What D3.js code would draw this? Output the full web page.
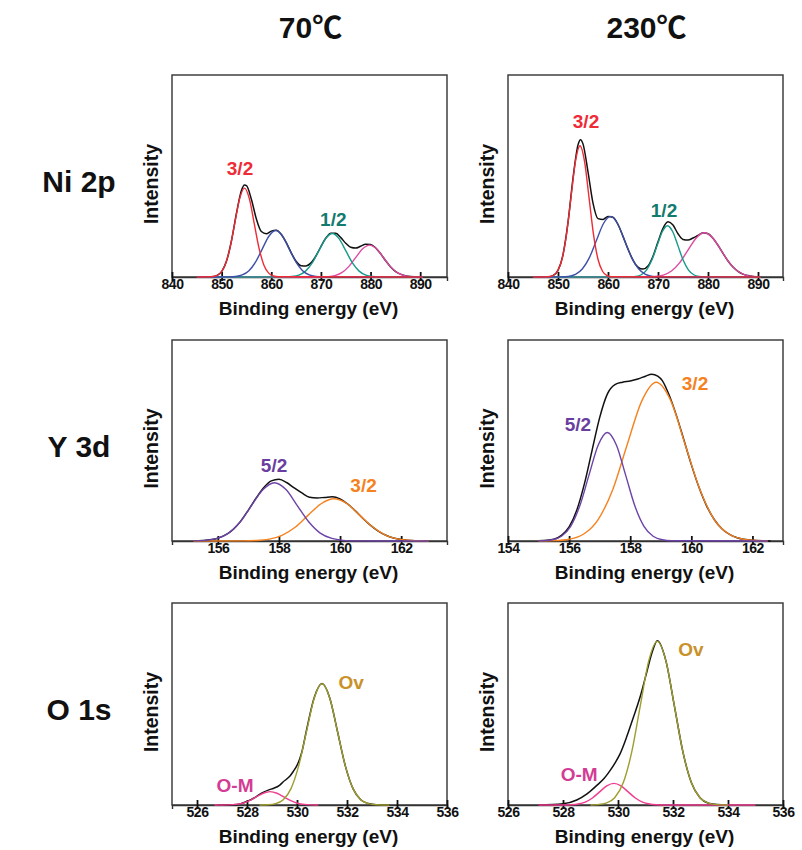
<!DOCTYPE html>
<html>
<head>
<meta charset="utf-8">
<script src="https://cdn.jsdelivr.net/npm/d3@7"></script>
<style>
  body { margin: 0; background: #fff; }
  text { font-family: "Liberation Sans", Arial, sans-serif; font-weight: bold; }
</style>
</head>
<body>
<svg id="chart" width="802" height="850"></svg>
<script>
// ---------- labels & ticks ----------
const columnTemps = ["70", "230"];
const tempUnit = "\u2103";
const rowLabels = ["Ni 2p", "Y 3d", "O 1s"];
const xAxisTitle = "Binding energy (eV)";
const yAxisTitle = "Intensity";

const niTicks = [840, 850, 860, 870, 880, 890];
const y70Ticks = [156, 158, 160, 162];
const y230Ticks = [154, 156, 158, 160, 162];
const oTicks = [526, 528, 530, 532, 534, 536];

const niPeakNames = ["3/2", "1/2"];
const yPeakNames = ["5/2", "3/2"];
const oPeakNames = ["O-M", "Ov"];

// ---------- Ni 2p, 70 C : [binding energy, intensity] ----------
const ni70Envelope = [[845,0],[846,0],[847,0.03],[848,0.14],[849,0.7],[850,2.7],[851,8.0],[852,18.2],[853,31.7],[854,42.9],[854.6,45.5],[855,45.2],[856,38.4],[857,28.7],[858,22.5],[859,21.4],[860,22.7],[861,23.2],[862,21.2],[863,17.1],[864,12.1],[865,7.8],[866,5.6],[867,5.5],[868,7.0],[869,10.5],[870,15.1],[871,19.3],[872,21.7],[873,21.6],[874,19.5],[875,16.7],[876,14.7],[877,14.3],[878,15.2],[879,16.2],[880,16.1],[881,14.5],[882,11.6],[883,8.2],[884,5.1],[885,2.8],[886,1.4],[887,0.6],[888,0.2],[889,0.07],[890,0],[890.5,0]];
const ni70Main32 = [[845,0],[847.78,0.1],[848.75,0.5],[849.73,1.9],[850.7,6.0],[851.68,14.3],[852.65,26.7],[853.63,38.8],[854.6,44],[855.58,38.8],[856.55,26.7],[857.53,14.3],[858.5,6.0],[859.48,1.9],[860.45,0.5],[861.43,0.1],[890.5,0]];
const ni70Sat32 = [[845,0],[851.45,0.05],[852.8,0.26],[854.15,1.01],[855.5,3.11],[856.85,7.47],[858.2,13.95],[859.55,20.3],[860.9,23],[862.25,20.3],[863.6,13.95],[864.95,7.47],[866.3,3.11],[867.65,1.01],[869.0,0.26],[870.35,0.05],[890.5,0]];
const ni70Main12 = [[845,0],[862.85,0.05],[864.2,0.24],[865.55,0.94],[866.9,2.91],[868.25,6.98],[869.6,13.04],[870.95,18.97],[872.3,21.5],[873.65,18.97],[875.0,13.04],[876.35,6.98],[877.7,2.91],[879.05,0.94],[880.4,0.24],[881.75,0.05],[890.5,0]];
const ni70Sat12 = [[845,0],[870.0,0.03],[871.4,0.18],[872.8,0.69],[874.2,2.14],[875.6,5.13],[877.0,9.58],[878.4,13.94],[879.8,15.8],[881.2,13.94],[882.6,9.58],[884.0,5.13],[885.4,2.14],[886.8,0.69],[888.2,0.18],[889.6,0.03],[890.5,0]];

// ---------- Ni 2p, 230 C ----------
const ni230Envelope = [[845,0],[846,0],[847,0.02],[848,0.1],[849,0.7],[850,3.3],[851,11.0],[852,27.0],[853,48.9],[854,65.4],[854.5,68.0],[855,65.9],[856,52.1],[857,36.6],[858,28.9],[859,28.5],[860,30.0],[861,29.6],[862,26.0],[863,20.1],[864,13.8],[865,8.4],[866,4.9],[867,3.9],[868,5.4],[869,10.3],[870,17.4],[871,24.1],[872,27.3],[873,25.7],[874,21.4],[875,18.6],[876,18.3],[877,19.3],[878,20.6],[879,21.9],[880,21.4],[881,19.2],[882,15.7],[883,11.7],[884,7.9],[885,4.9],[886,2.8],[887,1.4],[888,0.7],[889,0.3],[890,0.1],[890.5,0]];
const ni230Main32 = [[845,0],[848.1,0.14],[849.0,0.72],[849.9,2.85],[850.8,8.79],[851.7,21.11],[852.6,39.42],[853.5,57.36],[854.4,65],[855.3,57.36],[856.2,39.42],[857.1,21.11],[858.0,8.79],[858.9,2.85],[859.8,0.72],[860.7,0.14],[890.5,0]];
const ni230Sat32 = [[845,0],[850.7,0.07],[852.1,0.33],[853.5,1.32],[854.9,4.06],[856.3,9.74],[857.7,18.2],[859.1,26.48],[860.5,30],[861.9,26.48],[863.3,18.2],[864.7,9.74],[866.1,4.06],[867.5,1.32],[868.9,0.33],[870.3,0.07],[890.5,0]];
const ni230Main12 = [[845,0],[864.55,0.06],[865.6,0.28],[866.65,1.12],[867.7,3.44],[868.75,8.25],[869.8,15.41],[870.85,22.42],[871.9,25.4],[872.95,22.42],[874.0,15.41],[875.05,8.25],[876.1,3.44],[877.15,1.12],[878.2,0.28],[879.25,0.06],[890.5,0]];
const ni230Sat12 = [[845,0],[867.75,0.05],[869.4,0.24],[871.05,0.96],[872.7,2.96],[874.35,7.11],[876.0,13.28],[877.65,19.33],[879.3,21.9],[880.95,19.33],[882.6,13.28],[884.25,7.11],[885.9,2.96],[887.55,0.96],[889.2,0.24],[890.5,0]];

// ---------- Y 3d, 70 C ----------
const y70Envelope = [[155.2,0],[155.5,0.2],[156,1.4],[156.5,5.7],[156.75,9.9],[157,15.4],[157.25,21.3],[157.5,26.5],[157.75,29.9],[158,30.7],[158.25,29.1],[158.5,26.4],[158.75,23.9],[159,21.8],[159.25,21.4],[159.5,21.7],[159.75,22.0],[160,20.9],[160.25,18.4],[160.5,15.0],[160.75,11.2],[161,7.75],[161.25,4.9],[161.5,2.84],[161.75,1.51],[162,0.74],[162.5,0.14],[162.9,0]];
const y70D52 = [[155.2,0],[155.23,0.06],[155.6,0.32],[155.98,1.27],[156.35,3.92],[156.73,9.42],[157.1,17.59],[157.48,25.59],[157.85,29],[158.23,25.59],[158.6,17.59],[158.98,9.42],[159.35,3.92],[159.73,1.27],[160.1,0.32],[160.48,0.06],[162.9,0]];
const y70D32 = [[155.2,0],[156.83,0.05],[157.25,0.23],[157.68,0.92],[158.1,2.84],[158.53,6.82],[158.95,12.74],[159.38,18.53],[159.8,21],[160.23,18.53],[160.65,12.74],[161.08,6.82],[161.5,2.84],[161.93,0.92],[162.35,0.23],[162.78,0.05],[162.9,0]];

// ---------- Y 3d, 230 C ----------
const y230Envelope = [[155,0.1],[155.5,0.9],[155.75,2.8],[156,7.0],[156.25,15.3],[156.5,28.4],[156.75,45.0],[157,61.4],[157.25,73.1],[157.5,77.8],[157.75,79.0],[158,79.6],[158.25,80.6],[158.5,82.0],[158.7,83.0],[158.9,82.0],[159.05,79.8],[159.25,73.5],[159.5,63.0],[159.75,50.6],[160,38.0],[160.25,26.7],[160.5,17.5],[160.75,10.7],[161,6.1],[161.25,3.25],[161.5,1.6],[162,0.32],[162.5,0.05],[162.6,0]];
const y230D52 = [[155.0,0],[155.15,0.12],[155.45,0.6],[155.75,2.37],[156.05,7.31],[156.35,17.53],[156.65,32.75],[156.95,47.66],[157.25,54],[157.55,47.66],[157.85,32.75],[158.15,17.53],[158.45,7.31],[158.75,2.37],[159.05,0.6],[159.35,0.12],[162.5,0]];
const y230D32 = [[155.0,0],[155.53,0.17],[156.0,0.88],[156.48,3.47],[156.95,10.69],[157.43,25.65],[157.9,47.91],[158.38,69.72],[158.85,79],[159.33,69.72],[159.8,47.91],[160.28,25.65],[160.75,10.69],[161.23,3.47],[161.7,0.88],[162.18,0.17],[162.5,0]];

// ---------- O 1s, 70 C ----------
const o70Envelope = [[526.8,0],[527.6,0.3],[528,1.8],[528.3,3.6],[528.6,6.0],[528.9,7.6],[529.05,8.2],[529.3,9.7],[529.45,11.5],[529.6,13.0],[529.72,14.4],[529.85,16.6],[529.99,19.4],[530.1,22.5],[530.2,26.5],[530.38,37.0],[530.69,53.2],[531,60.1],[531.31,53.0],[531.62,36.4],[531.93,19.5],[532.24,8.1],[532.55,2.6],[532.86,0.7],[533.17,0.13],[533.7,0]];
const o70OM = [[526.7,0],[526.99,0.01],[527.27,0.07],[527.55,0.29],[527.82,0.89],[528.1,2.14],[528.37,4.0],[528.65,5.82],[528.92,6.6],[529.2,5.82],[529.47,4.0],[529.75,2.14],[530.02,0.89],[530.3,0.29],[530.57,0.07],[530.85,0]];
const o70Ov = [[528.5,0],[528.83,0.13],[529.14,0.67],[529.45,2.63],[529.76,8.12],[530.07,19.48],[530.38,36.39],[530.69,52.95],[531.0,60],[531.31,52.95],[531.62,36.39],[531.93,19.48],[532.24,8.12],[532.55,2.63],[532.86,0.67],[533.17,0.13],[533.7,0]];

// ---------- O 1s, 230 C ----------
const o230Envelope = [[527.1,0],[528,0.6],[528.5,2.5],[528.86,5.4],[529.22,9.6],[529.5,13.2],[529.71,17.0],[529.9,21.0],[530.07,25.2],[530.31,33.5],[530.56,43.4],[530.8,53.3],[531.05,66],[531.25,76],[531.43,81.3],[531.74,71.5],[532.05,49.1],[532.36,26.3],[532.67,11.0],[532.98,3.6],[533.29,0.9],[533.6,0.2],[534,0]];
const o230OM = [[527.1,0],[528.03,0.02],[528.29,0.12],[528.55,0.47],[528.81,1.45],[529.07,3.47],[529.33,6.49],[529.59,9.44],[529.85,10.7],[530.11,9.44],[530.37,6.49],[530.63,3.47],[530.89,1.45],[531.15,0.47],[531.41,0.12],[531.67,0.02],[535,0]];
const o230Ov = [[529.0,0],[529.26,0.18],[529.57,0.9],[529.88,3.56],[530.19,10.96],[530.5,26.3],[530.81,49.13],[531.12,71.48],[531.43,81],[531.74,71.48],[532.05,49.13],[532.36,26.3],[532.67,10.96],[532.98,3.56],[533.29,0.9],[533.6,0.18],[534,0]];

// ---------- styling ----------
const C = {
  red: "#ee2b36", blue: "#3e4fa8", teal: "#17998b", pink: "#de4aa2",
  purple: "#6d43a8", orange: "#f5821f", olive: "#9d9d30", omPink: "#ef3d8f",
  tealText: "#127a6e", purpleText: "#6a3ea0", ovText: "#c9912a", omText: "#d33c95"
};

const svg = d3.select("#chart");
const panelW = 275;
const colLeft = [172, 508];
const rowTop = [75, 340, 603];
const rowH = [202, 201, 202];

const panels = [
  { row: 0, col: 0, domain: [840, 895.4], ticks: niTicks, envelope: ni70Envelope,
    parts: [[ni70Sat12, C.pink], [ni70Main12, C.teal], [ni70Sat32, C.blue], [ni70Main32, C.red]],
    labels: [[niPeakNames[0], 853.7, 50.5, C.red], [niPeakNames[1], 872.5, 25.2, C.tealText]] },
  { row: 0, col: 1, domain: [840, 895], ticks: niTicks, envelope: ni230Envelope,
    parts: [[ni230Sat12, C.pink], [ni230Main12, C.teal], [ni230Sat32, C.blue], [ni230Main32, C.red]],
    labels: [[niPeakNames[0], 855.6, 73.9, C.red], [niPeakNames[1], 871.2, 29.9, C.tealText]] },
  { row: 1, col: 0, domain: [154.5, 163.5], ticks: y70Ticks, envelope: y70Envelope,
    parts: [[y70D32, C.orange], [y70D52, C.purple]],
    labels: [[yPeakNames[0], 157.84, 34.5, C.purpleText], [yPeakNames[1], 160.77, 24.5, C.orange]] },
  { row: 1, col: 1, domain: [154, 163], ticks: y230Ticks, envelope: y230Envelope,
    parts: [[y230D32, C.orange], [y230D52, C.purple]],
    labels: [[yPeakNames[0], 156.29, 54.7, C.purpleText], [yPeakNames[1], 160.12, 75.1, C.orange]] },
  { row: 2, col: 0, domain: [525, 536], ticks: oTicks, envelope: o70Envelope,
    parts: [[o70OM, C.omPink], [o70Ov, C.olive]],
    labels: [[oPeakNames[0], 527.52, 6.6, C.omText], [oPeakNames[1], 532.17, 57.5, C.ovText]] },
  { row: 2, col: 1, domain: [526, 536], ticks: oTicks, envelope: o230Envelope,
    parts: [[o230OM, C.omPink], [o230Ov, C.olive]],
    labels: [[oPeakNames[0], 528.59, 12.0, C.omText], [oPeakNames[1], 532.65, 73.6, C.ovText]] }
];

// column titles (temperature)
columnTemps.forEach((t, i) => {
  const cx = colLeft[i] + panelW / 2 + 1;
  const txt = svg.append("text").attr("x", cx).attr("y", 38)
    .attr("text-anchor", "middle").attr("font-size", 30).attr("fill", "#111");
  txt.append("tspan").text(t);
  txt.append("tspan").attr("font-family", "'Noto Sans CJK KR', 'Noto Sans CJK SC', sans-serif")
    .attr("font-weight", "bold").text(tempUnit);
});

// row titles (core level)
rowLabels.forEach((t, r) => {
  svg.append("text").attr("x", 79).attr("y", rowTop[r] + rowH[r] / 2 + 16)
    .attr("text-anchor", "middle").attr("font-size", 30).attr("fill", "#111").text(t);
});

panels.forEach(p => {
  const H = rowH[p.row];
  const g = svg.append("g").attr("transform", `translate(${colLeft[p.col]},${rowTop[p.row]})`);
  const x = d3.scaleLinear().domain(p.domain).range([0, panelW]);
  const y = d3.scaleLinear().domain([0, 100]).range([H, 0]);
  const line = d3.line().x(d => x(d[0])).y(d => y(d[1])).curve(d3.curveMonotoneX);

  // frame
  g.append("rect").attr("width", panelW).attr("height", H)
    .attr("fill", "none").attr("stroke", "#333").attr("stroke-width", 1.4);

  // x axis with ticks crossing the baseline
  const ax = g.append("g").attr("transform", `translate(0,${H})`)
    .call(d3.axisBottom(x).tickValues(p.ticks).tickSize(4).tickPadding(-2).tickFormat(d3.format("d")));
  ax.select(".domain").attr("stroke", "#333").attr("stroke-width", 1.4);
  ax.selectAll(".tick line").attr("y1", -5).attr("y2", 4).attr("stroke", "#111").attr("stroke-width", 1.8);
  ax.selectAll(".tick text").attr("font-size", 14).attr("fill", "#111")
    .attr("font-family", "'Liberation Sans', Arial, sans-serif").attr("font-weight", "bold")
    .attr("letter-spacing", -0.5);

  // envelope then fitted components
  g.append("path").datum(p.envelope).attr("d", line)
    .attr("fill", "none").attr("stroke", "#111").attr("stroke-width", 1.5);
  p.parts.forEach(([data, color]) => {
    g.append("path").datum(data).attr("d", line)
      .attr("fill", "none").attr("stroke", color).attr("stroke-width", 1.4);
  });

  // peak annotations
  p.labels.forEach(([t, lx, ly, color]) => {
    g.append("text").attr("x", x(lx)).attr("y", y(ly)).attr("text-anchor", "middle")
      .attr("font-size", 19).attr("fill", color).text(t);
  });

  // axis titles
  g.append("text").attr("x", panelW / 2 - 1).attr("y", H + 38).attr("text-anchor", "middle")
    .attr("font-size", 19).attr("fill", "#111").text(xAxisTitle);
  g.append("text").attr("transform", `translate(-14.5,${H / 2 + 8}) rotate(-90)`)
    .attr("text-anchor", "middle").attr("font-size", 19.5).attr("fill", "#111").text(yAxisTitle);
});
</script>
</body>
</html>
